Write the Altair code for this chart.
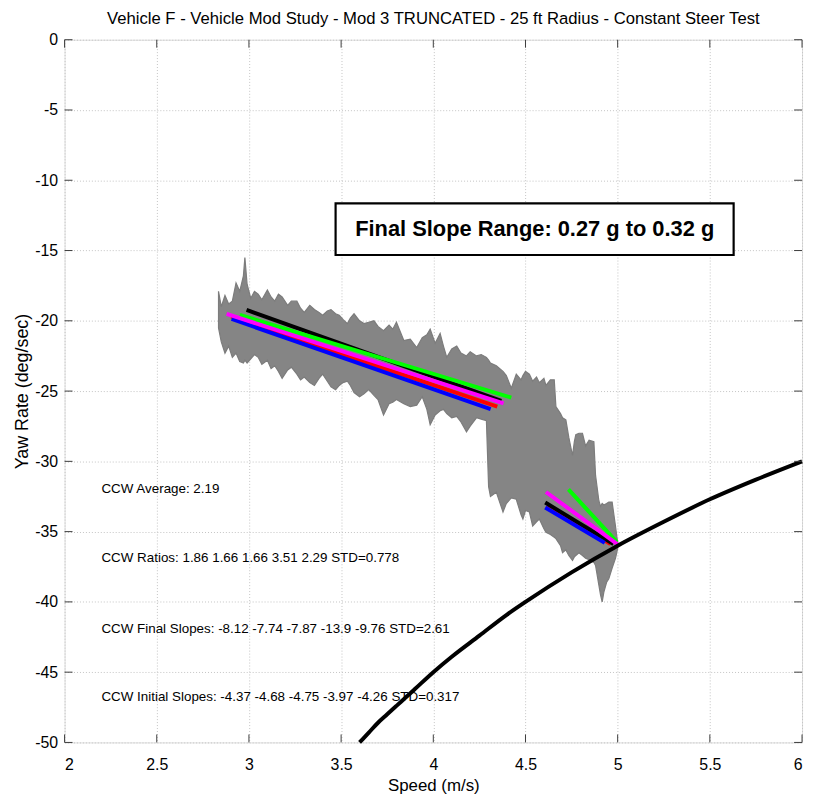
import altair as alt
import pandas as pd

# ---------------- data ----------------
# envelope of the grey measurement traces
env_speed = [2.835, 2.85, 2.87, 2.89, 2.91, 2.93, 2.95, 2.97, 2.978, 2.99, 3.01, 3.03, 3.05, 3.07,
             3.10, 3.12, 3.14, 3.16, 3.18, 3.21, 3.23, 3.26, 3.28, 3.30, 3.33, 3.355, 3.38, 3.40,
             3.425, 3.445, 3.47, 3.49, 3.51, 3.534, 3.55, 3.57, 3.60, 3.624, 3.65, 3.678, 3.70,
             3.73, 3.76, 3.78, 3.80, 3.84, 3.875, 3.91, 3.94, 3.965, 3.983, 4.01, 4.037, 4.055,
             4.073, 4.10, 4.127, 4.15, 4.18, 4.20, 4.234, 4.26, 4.288, 4.30, 4.31, 4.342, 4.378,
             4.396, 4.423, 4.45, 4.476, 4.486, 4.50, 4.521, 4.539, 4.56, 4.575, 4.60, 4.611,
             4.635, 4.656, 4.665, 4.69, 4.701, 4.719, 4.735, 4.755, 4.765, 4.773, 4.79, 4.809,
             4.826, 4.845, 4.871, 4.88, 4.898, 4.907, 4.916, 4.925, 4.94, 4.952, 4.97, 4.988, 5.00]
env_top = [-17.9, -19.0, -18.2, -18.8, -18.6, -17.3, -17.9, -16.8, -15.5, -17.4, -18.4, -17.9, -18.1,
           -18.5, -17.8, -18.3, -18.6, -18.1, -18.3, -18.9, -18.6, -18.6, -19.1, -19.4, -18.9,
           -19.2, -19.4, -19.6, -19.3, -19.2, -19.5, -19.6, -19.9, -20.2, -19.8, -19.5, -20.0,
           -20.2, -20.1, -20.0, -20.4, -20.7, -20.3, -20.6, -20.1, -21.4, -21.3, -21.9, -21.2,
           -21.0, -20.6, -21.6, -20.9, -21.8, -22.6, -22.0, -21.8, -22.3, -22.5, -22.2, -22.5,
           -22.4, -22.6, -22.8, -23.0, -23.2, -23.6, -23.9, -24.8, -23.8, -24.2, -23.9, -23.6,
           -23.8, -24.3, -24.0, -24.4, -24.1, -24.6, -24.2, -24.2, -26.1, -26.6, -26.9, -27.05,
           -28.3, -29.6, -28.6, -28.1, -28.0, -28.0, -28.9, -28.5, -28.6, -31.0, -32.8, -33.2,
           -33.0, -33.1, -33.0, -32.9, -32.9, -34.6, -35.8]
env_bottom = [-20.5, -21.5, -22.3, -21.8, -22.6, -22.3, -22.9, -23.0, -22.8, -23.0, -22.7, -22.4,
              -22.6, -23.1, -22.8, -23.4, -23.2, -23.6, -24.1, -23.5, -23.3, -23.8, -24.2, -24.0,
              -24.4, -24.6, -24.1, -23.8, -24.3, -24.7, -24.9, -24.6, -24.4, -24.3, -24.6, -25.1,
              -25.4, -25.2, -24.9, -25.3, -25.6, -26.7, -25.9, -25.8, -25.6, -25.9, -26.1, -26.0,
              -25.4, -26.3, -27.4, -26.7, -26.4, -26.3, -26.6, -26.9, -26.8, -27.2, -27.9, -27.5,
              -26.9, -27.0, -27.1, -31.8, -32.5, -32.2, -33.6, -33.0, -32.6, -32.7, -33.8, -34.1,
              -33.5, -33.6, -34.6, -34.3, -34.1, -34.8, -35.05, -35.2, -35.4, -35.5, -36.0, -36.5,
              -36.3, -36.7, -37.05, -36.8, -36.7, -36.5, -36.7, -36.9, -37.0, -37.2, -37.4, -38.8,
              -39.5, -40.0, -39.3, -38.6, -38.35, -37.6, -36.9, -36.2]

# limit curve (black)
curve_speed = [3.6, 3.65, 3.7, 3.75, 3.8, 3.85, 3.9, 4.0, 4.1, 4.25, 4.4, 4.5, 4.75, 5.0,
               5.25, 5.5, 5.75, 6.0]
curve_yaw = [-50.0, -49.3, -48.6, -48.0, -47.4, -46.8, -46.2, -45.0, -43.9, -42.4, -40.9, -40.0,
             -37.9, -36.0, -34.3, -32.7, -31.3, -30.0]

# fitted slope lines: [x0, y0, x1, y1]
fit_names = ["red", "black", "blue", "green", "magenta"]
fit_colors = ["#ff0000", "#000000", "#0000ff", "#00ff00", "#ff00ff"]
initial_fits = [[2.904, -19.70, 4.347, -26.10],
                [2.987, -19.23, 4.369, -25.70],
                [2.906, -19.87, 4.311, -26.29],
                [2.951, -19.58, 4.423, -25.47],
                [2.879, -19.51, 4.381, -25.87]]
final_fits = [[4.620, -33.10, 4.961, -35.88],
              [4.607, -32.93, 4.977, -35.88],
              [4.607, -33.28, 4.930, -35.80],
              [4.733, -31.99, 4.997, -35.76],
              [4.611, -32.18, 5.009, -36.00]]

x_ticks = [2, 2.5, 3, 3.5, 4, 4.5, 5, 5.5, 6]
y_ticks = [0, -5, -10, -15, -20, -25, -30, -35, -40, -45, -50]

notes = ["CCW Average: 2.19",
         "CCW Ratios: 1.86 1.66 1.66 3.51 2.29 STD=0.778",
         "CCW Final Slopes: -8.12 -7.74 -7.87 -13.9 -9.76 STD=2.61",
         "CCW Initial Slopes: -4.37 -4.68 -4.75 -3.97 -4.26 STD=0.317"]
note_y = [-32.0, -36.9, -41.9, -46.8]
note_x = 2.2

box_text = "Final Slope Range: 0.27 g to 0.32 g"

TITLE = "Vehicle F - Vehicle Mod Study - Mod 3 TRUNCATED - 25 ft Radius - Constant Steer Test"
FONT = "Liberation Sans, Arial, Helvetica"

# ---------------- chart ----------------
xscale = alt.Scale(domain=[2, 6], nice=False, zero=False)
yscale = alt.Scale(domain=[-50, 0], nice=False, zero=False)

xaxis = alt.Axis(values=x_ticks, labelExpr="'' + datum.value", grid=True, gridDash=[1, 2],
                 gridColor="#c4c4c4", gridWidth=1, domain=False, ticks=False,
                 labelFont=FONT, labelFontSize=16, labelColor="#000", labelPadding=14,
                 title="Speed (m/s)", titleFont=FONT, titleFontSize=17,
                 titleFontWeight="normal", titleColor="#000", titlePadding=5)
yaxis = alt.Axis(values=y_ticks, labelExpr="'' + datum.value", grid=True, gridDash=[1, 2],
                 gridColor="#c4c4c4", gridWidth=1, domain=False, ticks=False,
                 labelFont=FONT, labelFontSize=16, labelColor="#000", labelPadding=7,
                 title="Yaw Rate (deg/sec)", titleFont=FONT, titleFontSize=18,
                 titleFontWeight="normal", titleColor="#000", titlePadding=3)


def X(field="x", **kw):
    return alt.X(f"{field}:Q", scale=xscale, axis=xaxis, **kw)


def Y(field="y", **kw):
    return alt.Y(f"{field}:Q", scale=yscale, axis=yaxis, **kw)


env_df = pd.DataFrame({"x": env_speed, "y": env_top, "y2": env_bottom})
grey = alt.Chart(env_df).mark_area(color="#858585", stroke="#7c7c7c", strokeWidth=1.2,
                                   interpolate="linear").encode(
    x=X(), y=Y(), y2="y2:Q")

curve_df = pd.DataFrame({"x": curve_speed, "y": curve_yaw})
curve = alt.Chart(curve_df).mark_line(color="#000", strokeWidth=4, interpolate="monotone").encode(
    x=X(), y=Y())

fit_layers = []
for name, col, a, b in zip(fit_names, fit_colors, initial_fits, final_fits):
    rows = [{"x": a[0], "y": a[1], "seg": "initial"}, {"x": a[2], "y": a[3], "seg": "initial"},
            {"x": b[0], "y": b[1], "seg": "final"}, {"x": b[2], "y": b[3], "seg": "final"}]
    fit_layers.append(
        alt.Chart(pd.DataFrame(rows)).mark_line(color=col, strokeWidth=4).encode(
            x=X(), y=Y(), detail="seg:N"))

# inward tick marks (MATLAB style)
tick_col = "#3c3c3c"
xt_df = pd.DataFrame({"x": x_ticks})
yt_df = pd.DataFrame({"y": y_ticks})
xt_bottom = alt.Chart(xt_df).mark_rule(color=tick_col, strokeWidth=1).encode(
    x=X(), y=alt.value(708), y2=alt.value(700))
xt_top = alt.Chart(xt_df).mark_rule(color=tick_col, strokeWidth=1).encode(
    x=X(), y=alt.value(0), y2=alt.value(8))
yt_left = alt.Chart(yt_df).mark_rule(color=tick_col, strokeWidth=1).encode(
    y=Y(), x=alt.value(0), x2=alt.value(8))
yt_right = alt.Chart(yt_df).mark_rule(color=tick_col, strokeWidth=1).encode(
    y=Y(), x=alt.value(743), x2=alt.value(735))

notes_df = pd.DataFrame({"x": [note_x] * len(notes), "y": note_y, "t": notes})
note_text = alt.Chart(notes_df).mark_text(align="left", baseline="middle", font=FONT,
                                          fontSize=13.5, color="#000").encode(
    x=X(), y=Y(), text="t:N")

box_df = pd.DataFrame({"x": [3.470], "x2": [5.629], "y": [-11.65], "y2": [-15.32]})
box = alt.Chart(box_df).mark_rect(fill="white", stroke="#000", strokeWidth=2.2).encode(
    x=X(), x2="x2:Q", y=Y(), y2="y2:Q")
box_lbl_df = pd.DataFrame({"x": [4.55], "y": [-13.5], "t": [box_text]})
box_lbl = alt.Chart(box_lbl_df).mark_text(font=FONT, fontWeight="bold",
                                          fontSize=22, color="#000", baseline="middle",
                                          align="center").encode(
    x=X(), y=Y(), text="t:N")

chart = alt.layer(grey, *fit_layers, curve, xt_bottom, xt_top, yt_left, yt_right,
                  note_text, box, box_lbl).properties(
    width=743, height=708,
    title=alt.TitleParams(TITLE, font=FONT, fontSize=16.8, fontWeight="normal",
                          color="#000", anchor="middle", offset=4),
    autosize=alt.AutoSizeParams(type="none"),
    padding={"left": 57, "top": 29, "right": 5, "bottom": 50},
).configure_view(stroke="#3c3c3c", strokeWidth=1.5).configure(background="white")

chart.save("out.html", embed_options={"renderer": "svg", "actions": False})
